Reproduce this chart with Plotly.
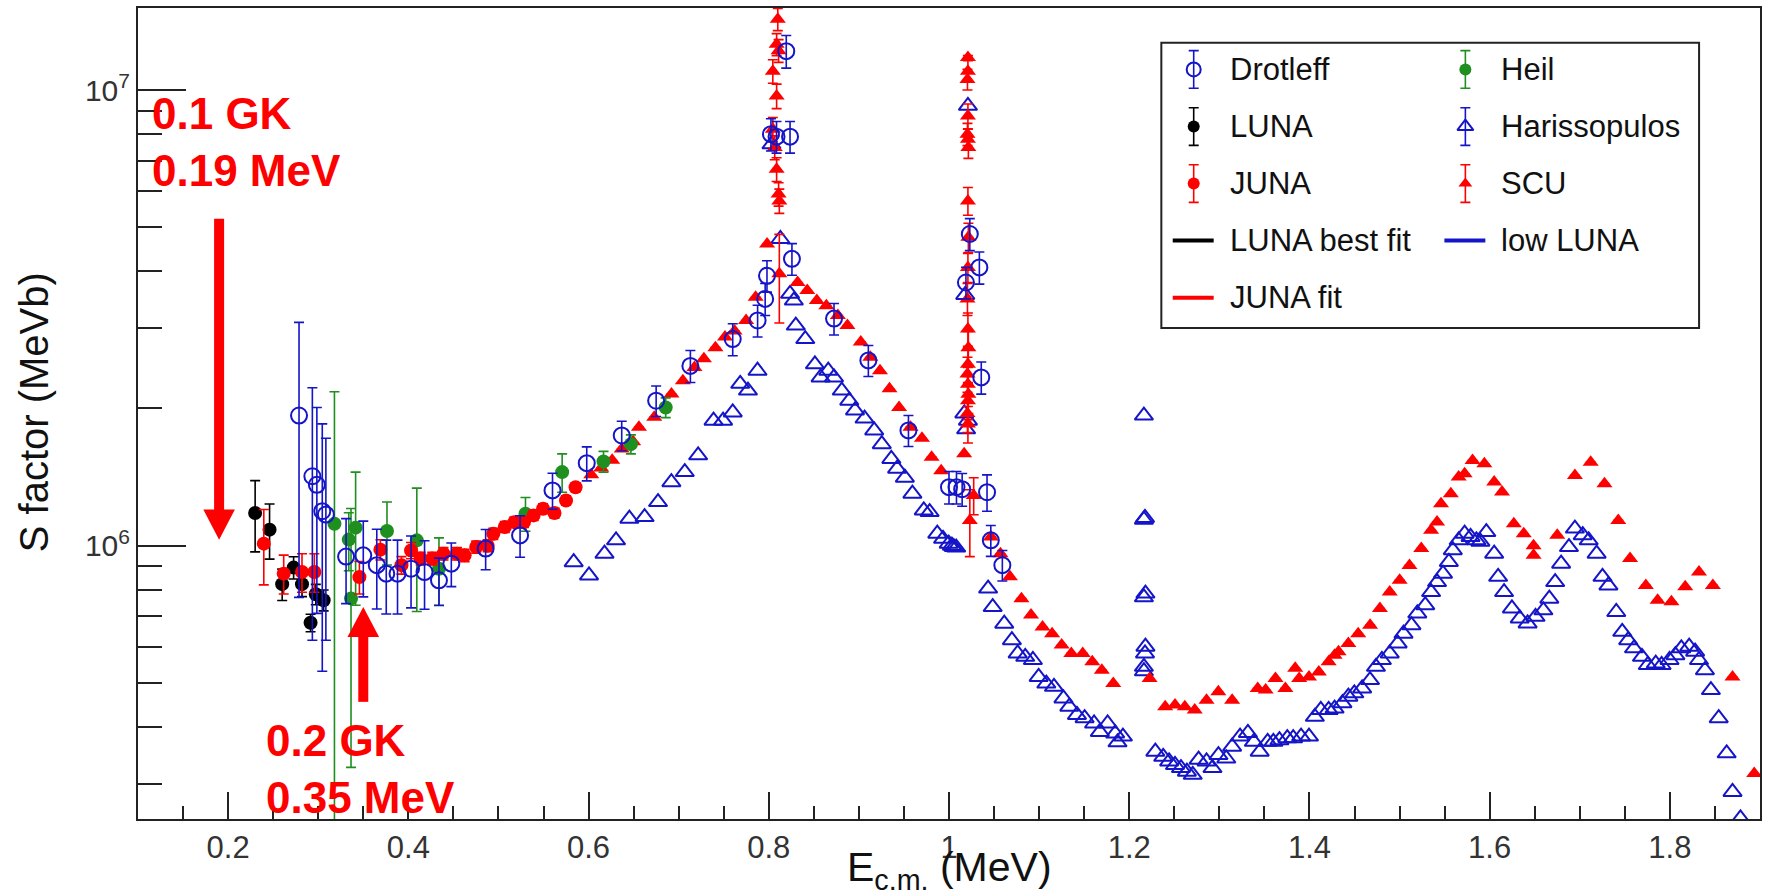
import plotly.graph_objects as go

# ---------------------------------------------------------------- data
# Drotleff (open circles): E_cm [MeV], S [MeV b], dS
drotleff_e = [0.2787, 0.2935, 0.2985, 0.3045, 0.3085, 0.3309, 0.3500, 0.3650, 0.3755, 0.3880,
              0.4030, 0.4180, 0.4340, 0.4477, 0.4858, 0.5240, 0.5600, 0.5980, 0.6368, 0.6750,
              0.7130, 0.7600, 0.7876, 0.7960, 0.7980, 0.8024, 0.8086, 0.8194, 0.8236, 0.8257,
              0.8724, 0.9105, 0.9550, 1.0000, 1.0083, 1.0146, 1.0188, 1.0231, 1.0337, 1.0358,
              1.0422, 1.0464, 1.0592]
drotleff_s = [1.93e6, 1.42e6, 1.36e6, 1.19e6, 1.17e6, 9.46e5, 9.52e5, 9.06e5, 8.68e5, 8.68e5,
              8.90e5, 8.75e5, 8.39e5, 9.13e5, 9.85e5, 1.053e6, 1.322e6, 1.517e6, 1.745e6, 2.08e6,
              2.48e6, 2.84e6, 3.12e6, 3.48e6, 3.91e6, 8.0e6, 7.9e6, 1.217e7, 7.9e6, 4.26e6,
              3.15e6, 2.55e6, 1.79e6, 1.344e6, 1.344e6, 1.33e6, 3.78e6, 4.83e6, 4.08e6, 2.34e6,
              1.31e6, 1.027e6, 9.06e5]
drotleff_ds = [1.16e6, 8.0e5, 6.5e5, 6.6e5, 5.5e5, 2.0e5, 1.8e5, 1.8e5, 1.6e5, 1.6e5,
               1.6e5, 1.5e5, 1.0e5, 1.0e5, 1.0e5, 1.1e5, 1.2e5, 1.3e5, 1.3e5, 1.6e5,
               2.0e5, 2.3e5, 2.5e5, 2.8e5, 3.1e5, 6.5e5, 6.3e5, 1.0e6, 6.3e5, 3.4e5,
               2.5e5, 2.0e5, 1.4e5, 1.1e5, 1.1e5, 1.1e5, 3.0e5, 3.9e5, 3.3e5, 1.9e5,
               1.2e5, 8.0e4, 7.0e4]

# LUNA (filled black circles)
luna_e = [0.2300, 0.2460, 0.2600, 0.2727, 0.2820, 0.2915, 0.2973, 0.3060]
luna_s = [1.179e6, 1.084e6, 8.23e5, 8.95e5, 8.23e5, 6.77e5, 7.82e5, 7.59e5]
luna_ds = [2.1e5, 1.5e5, 6.5e4, 5.0e4, 5.0e4, 3.0e4, 4.0e4, 4.0e4]

# JUNA (filled red circles)
juna_e = [0.2396, 0.2617, 0.2820, 0.2957, 0.3457, 0.3690, 0.3924, 0.4030, 0.4137, 0.4265,
          0.4390, 0.4540, 0.4625, 0.4753, 0.4880, 0.4943, 0.5070, 0.5177, 0.5283, 0.5390,
          0.5495, 0.5622, 0.5750, 0.5856]
juna_s = [1.01e6, 8.68e5, 8.75e5, 8.75e5, 8.53e5, 9.80e5, 9.06e5, 9.76e5, 9.37e5, 9.37e5,
          9.60e5, 9.60e5, 9.52e5, 9.93e5, 1.00e6, 1.062e6, 1.099e6, 1.126e6, 1.126e6, 1.165e6,
          1.205e6, 1.179e6, 1.256e6, 1.343e6]
juna_ds = [1.9e5, 8.5e4, 8.5e4, 8.5e4, 7.0e4, 5.0e4, 4.0e4, 4.0e4, 3.0e4, 3.0e4,
           3.0e4, 3.0e4, 3.0e4, 3.0e4, 3.0e4, 3.0e4, 3.0e4, 3.0e4, 3.0e4, 3.0e4,
           3.0e4, 3.0e4, 3.0e4, 3.0e4]

# Heil (filled green circles)
heil_e = [0.3180, 0.3339, 0.3415, 0.3364, 0.3763, 0.4094, 0.4340, 0.5300, 0.5707, 0.6166,
          0.6470, 0.6856]
heil_s = [1.117e6, 1.031e6, 1.095e6, 7.66e5, 1.077e6, 1.027e6, 8.90e5, 1.175e6, 1.45e6, 1.53e6,
          1.67e6, 2.01e6]
heil_ds = [1.06e6, 1.5e5, 3.55e5, 4.4e5, 1.7e5, 3.1e5, 1.5e5, 1.0e5, 1.4e5, 8.0e4,
           8.0e4, 1.0e5]

# Harissopulos (open blue triangles)
harisso_e = [0.5835, 0.6005, 0.6177, 0.6305, 0.6453, 0.6622, 0.6771, 0.6919, 0.7068, 0.7216,
             0.7387, 0.7493, 0.7600, 0.7683, 0.7769, 0.7875, 0.8030, 0.8129, 0.8236, 0.8278,
             0.8300, 0.8405, 0.8512, 0.8575, 0.8660, 0.8724, 0.8810, 0.8893, 0.8957, 0.9063,
             0.9170, 0.9254, 0.9360, 0.9424, 0.9510, 0.9594, 0.9720, 0.9785, 0.9870, 0.9934,
             0.9997, 1.0032, 1.0053, 1.0080, 1.0170, 1.0180, 1.0190, 1.0210, 1.0210, 1.0434,
             1.0485, 1.0613, 1.0698, 1.0762, 1.0846, 1.0931, 1.0995, 1.1080, 1.1165, 1.1270,
             1.1335, 1.1420, 1.1505, 1.1610, 1.1674, 1.1760, 1.1844, 1.1870, 1.1930, 1.2163,
             1.2175, 1.2163, 1.2180, 1.2163, 1.2180, 1.2175, 1.2163, 1.2163, 1.2290, 1.2377,
             1.2443, 1.2508, 1.2574, 1.2640, 1.2705, 1.2770, 1.2858, 1.2924, 1.2990, 1.3077,
             1.3142, 1.3230, 1.3317, 1.3383, 1.3448, 1.3536, 1.3600, 1.3667, 1.3754, 1.3820,
             1.3907, 1.3995, 1.4060, 1.4126, 1.4213, 1.4279, 1.4366, 1.4432, 1.4498, 1.4585,
             1.4672, 1.4738, 1.4804, 1.4891, 1.4979, 1.5044, 1.5132, 1.5197, 1.5285, 1.5350,
             1.5416, 1.5482, 1.5547, 1.5591, 1.5656, 1.5722, 1.5788, 1.5853, 1.5897, 1.5963,
             1.6050, 1.6094, 1.6160, 1.6247, 1.6334, 1.6421, 1.6509, 1.6596, 1.6662, 1.6727,
             1.6793, 1.6880, 1.6946, 1.7033, 1.7099, 1.7187, 1.7252, 1.7318, 1.7405, 1.7471,
             1.7537, 1.7602, 1.7690, 1.7755, 1.7843, 1.7908, 1.7996, 1.8061, 1.8127, 1.8214,
             1.8280, 1.8323, 1.8389, 1.8455, 1.8542, 1.8630, 1.8695, 1.8783]
harisso_s = [9.20e5, 8.60e5, 9.60e5, 1.027e6, 1.146e6, 1.155e6, 1.246e6, 1.378e6, 1.45e6, 1.578e6,
             1.88e6, 1.88e6, 1.96e6, 2.265e6, 2.19e6, 2.42e6, 7.6e6, 4.71e6, 3.57e6, 3.45e6,
             3.04e6, 2.84e6, 2.50e6, 2.34e6, 2.42e6, 2.34e6, 2.19e6, 2.08e6, 1.98e6, 1.90e6,
             1.79e6, 1.67e6, 1.55e6, 1.475e6, 1.41e6, 1.30e6, 1.195e6, 1.185e6, 1.062e6, 1.035e6,
             1.01e6, 1.00e6, 9.93e5, 9.90e5, 1.95e6, 3.55e6, 1.80e6, 9.23e6, 1.88e6, 8.05e5,
             7.33e5, 6.74e5, 6.20e5, 5.80e5, 5.70e5, 5.61e5, 5.15e5, 4.98e5, 4.90e5, 4.62e5,
             4.43e5, 4.25e5, 4.18e5, 4.07e5, 3.90e5, 4.07e5, 3.87e5, 3.70e5, 3.81e5, 1.93e6,
             1.15e6, 1.14e6, 7.85e5, 7.70e5, 6.00e5, 5.80e5, 5.42e5, 5.30e5, 3.53e5, 3.44e5,
             3.36e5, 3.30e5, 3.25e5, 3.19e5, 3.14e5, 3.39e5, 3.36e5, 3.25e5, 3.47e5, 3.41e5,
             3.62e5, 3.81e5, 3.88e5, 3.71e5, 3.53e5, 3.71e5, 3.71e5, 3.74e5, 3.78e5, 3.78e5,
             3.81e5, 3.81e5, 4.21e5, 4.36e5, 4.36e5, 4.39e5, 4.51e5, 4.66e5, 4.74e5, 4.86e5,
             5.07e5, 5.42e5, 5.61e5, 5.80e5, 6.10e5, 6.41e5, 6.69e5, 7.10e5, 7.40e5, 7.91e5,
             8.32e5, 8.68e5, 9.21e5, 9.77e5, 1.027e6, 1.062e6, 1.045e6, 1.027e6, 1.02e6, 1.071e6,
             9.60e5, 8.54e5, 7.91e5, 7.28e5, 6.92e5, 6.75e5, 6.98e5, 7.21e5, 7.65e5, 8.32e5,
             9.13e5, 9.93e5, 1.09e6, 1.054e6, 1.027e6, 9.60e5, 8.54e5, 8.18e5, 7.15e5, 6.47e5,
             6.20e5, 5.95e5, 5.70e5, 5.47e5, 5.51e5, 5.47e5, 5.61e5, 5.75e5, 5.95e5, 6.00e5,
             5.85e5, 5.61e5, 5.33e5, 4.82e5, 4.18e5, 3.50e5, 2.88e5, 2.52e5]

# SCU (filled red triangles); None where no error bar is shown
scu_e = [0.6030, 0.6140, 0.6262, 0.6368, 0.6495, 0.6559, 0.6729, 0.6920, 0.7047, 0.7175,
         0.7280, 0.7408, 0.7514, 0.7620, 0.7748, 0.7854, 0.7981, 0.8100, 0.8087, 0.8109,
         0.8045, 0.8087, 0.8045, 0.8066, 0.8087, 0.8109, 0.8117, 0.8117, 0.8320, 0.8427,
         0.8533, 0.8639, 0.8767, 0.8873, 0.9021, 0.9127, 0.9234, 0.9340, 0.9446, 0.9573,
         0.9700, 0.9807, 0.9913, 1.0168, 1.0210, 1.0210, 1.0205, 1.0210, 1.0205, 1.0210,
         1.0215, 1.0210, 1.0215, 1.0210, 1.0205, 1.0210, 1.0215, 1.0210, 1.0205, 1.0210,
         1.0215, 1.0210, 1.0205, 1.0210, 1.0231, 1.0274, 1.0465, 1.0571, 1.0677, 1.0804,
         1.0910, 1.1038, 1.1144, 1.1250, 1.1357, 1.1484, 1.1590, 1.1696, 1.1823, 1.2226,
         1.2399, 1.2508, 1.2617, 1.2727, 1.2858, 1.2989, 1.3142, 1.3426, 1.3514, 1.3623,
         1.3733, 1.3842, 1.3886, 1.3995, 1.4104, 1.4213, 1.4279, 1.4323, 1.4432, 1.4541,
         1.4673, 1.4782, 1.4891, 1.5001, 1.5110, 1.5241, 1.5350, 1.5416, 1.5460, 1.5569,
         1.5656, 1.5722, 1.5810, 1.5941, 1.6050, 1.6137, 1.6268, 1.6378, 1.6487, 1.6487,
         1.6750, 1.6946, 1.7121, 1.7274, 1.7427, 1.7558, 1.7733, 1.7864, 1.8017, 1.8170,
         1.8323, 1.8477, 1.8695, 1.8936]
scu_s = [1.43e6, 1.48e6, 1.54e6, 1.63e6, 1.69e6, 1.82e6, 1.914e6, 2.153e6, 2.30e6, 2.46e6,
         2.57e6, 2.72e6, 2.87e6, 2.96e6, 3.12e6, 3.51e6, 4.59e6, 1.43e7, 1.26e7, 1.22e7,
         1.10e7, 9.7e6, 8.2e6, 7.48e6, 6.7e6, 5.91e6, 5.71e6, 3.95e6, 3.78e6, 3.63e6,
         3.45e6, 3.36e6, 3.20e6, 3.04e6, 2.80e6, 2.59e6, 2.42e6, 2.21e6, 2.01e6, 1.82e6,
         1.72e6, 1.564e6, 1.46e6, 1.59e6, 1.178e7, 1.10e7, 1.055e7, 8.77e6, 8.0e6, 7.8e6,
         7.48e6, 5.71e6, 4.75e6, 4.08e6, 3.48e6, 2.99e6, 2.72e6, 2.50e6, 2.38e6, 2.26e6,
         2.15e6, 2.08e6, 1.95e6, 1.85e6, 1.136e6, 1.289e6, 1.045e6, 9.60e5, 8.54e5, 7.65e5,
         7.04e5, 6.63e5, 6.41e5, 6.05e5, 5.80e5, 5.80e5, 5.56e5, 5.33e5, 4.98e5, 5.11e5,
         4.43e5, 4.47e5, 4.43e5, 4.36e5, 4.58e5, 4.78e5, 4.58e5, 4.86e5, 4.82e5, 5.11e5,
         4.86e5, 5.38e5, 5.11e5, 5.15e5, 5.28e5, 5.56e5, 5.75e5, 5.85e5, 6.10e5, 6.41e5,
         6.69e5, 7.28e5, 7.91e5, 8.40e5, 9.05e5, 9.85e5, 1.081e6, 1.127e6, 1.236e6, 1.30e6,
         1.414e6, 1.438e6, 1.538e6, 1.512e6, 1.379e6, 1.311e6, 1.117e6, 1.062e6, 1.00e6, 9.52e5,
         1.054e6, 1.426e6, 1.525e6, 1.368e6, 1.136e6, 9.37e5, 8.18e5, 7.59e5, 7.53e5, 8.12e5,
         8.75e5, 8.18e5, 5.15e5, 3.16e5]
scu_ds = [None] * 17 + [
    8.0e5, 7.0e5, 7.0e5, 6.5e5, 6.0e5, 5.0e5, 4.5e5, 4.0e5, 3.5e5, 3.5e5, 8.7e5] + [None] * 16 + [
    1.2e5, 6.0e5, 5.5e5, 5.5e5, 4.5e5, 4.0e5, 4.0e5, 4.0e5, 3.5e5, 3.0e5, 2.8e5, 2.5e5, 2.3e5,
    2.2e5, 2.1e5, 2.0e5, 2.0e5, 1.9e5, 1.8e5, 1.7e5, 1.9e5, 1.2e5] + [None] * 70

# Reference temperatures / Gamow-window energies marked with arrows
arrow_temp_gk = [0.1, 0.2]
arrow_energy_mev = [0.19, 0.35]

x_range = [0.1, 1.9]
y_range_log = [5.40, 7.18]

# ---------------------------------------------------------------- styles
BLUE = "#1414c8"
RED = "#ff0000"
GREEN = "#1f8f1f"
BLACK = "#000000"
AXIS = "#222222"
FONT = "Liberation Sans, Arial, Helvetica, sans-serif"

styles = {
    "Drotleff": dict(symbol="circle-open", size=16, color=BLUE, lw=2),
    "LUNA": dict(symbol="circle", size=14, color=BLACK, lw=0),
    "JUNA": dict(symbol="circle", size=14, color=RED, lw=0),
    "Heil": dict(symbol="circle", size=14, color=GREEN, lw=0),
    "Harissopulos": dict(symbol="triangle-up-open", size=16, color=BLUE, lw=2),
    "SCU": dict(symbol="triangle-up", size=14, color=RED, lw=0),
}

fig = go.Figure()


def add_series(name, e, s, ds=None):
    st = styles[name]
    marker = dict(symbol=st["symbol"], size=st["size"], color=st["color"])
    if st["lw"]:
        marker["line"] = dict(width=st["lw"], color=st["color"])
    err = None
    if ds is not None:
        err = dict(type="data", array=ds, visible=True, color=st["color"],
                   thickness=1.6, width=5)
    fig.add_trace(go.Scatter(x=e, y=s, mode="markers", name=name, marker=marker,
                             error_y=err, showlegend=False,
                             xaxis="x", yaxis="y"))


add_series("Harissopulos", harisso_e, harisso_s)
add_series("SCU", scu_e, scu_s, scu_ds)
add_series("Heil", heil_e, heil_s, heil_ds)
add_series("LUNA", luna_e, luna_s, luna_ds)
add_series("JUNA", juna_e, juna_s, juna_ds)
add_series("Drotleff", drotleff_e, drotleff_s, drotleff_ds)

# ---------------------------------------------------------------- legend box
# two-column legend drawn on an inset axis (units: px inside the box / rows)
legend_entries = [
    ("Drotleff", "marker", None), ("Heil", "marker", None),
    ("LUNA", "marker", None), ("Harissopulos", "marker", None),
    ("JUNA", "marker", None), ("SCU", "marker", None),
    ("LUNA best fit", "line", BLACK), ("low LUNA", "line", BLUE),
    ("JUNA fit", "line", RED),
]
leg_px = dict(x0=1162.6, x1=1701.0, y0=41.7, y1=327.3)
plot_px = dict(x0=138.0, x1=1762.0, y0=7.0, y1=819.0)
pw = plot_px["x1"] - plot_px["x0"]
ph = plot_px["y1"] - plot_px["y0"]
leg_w = leg_px["x1"] - leg_px["x0"]
n_rows = 5
col_sym = [32.4, 304.4]
col_txt = [66.4, 338.4]

for i, (label, kind, lcolor) in enumerate(legend_entries):
    row, col = divmod(i, 2)
    yc = row + 0.47
    if kind == "marker":
        st = styles[label]
        marker = dict(symbol=st["symbol"], size=st["size"] - 2, color=st["color"])
        if st["lw"]:
            marker["line"] = dict(width=st["lw"], color=st["color"])
        fig.add_trace(go.Scatter(
            x=[col_sym[col]], y=[yc], mode="markers", marker=marker, showlegend=False,
            error_y=dict(type="data", array=[0.33], color=st["color"], thickness=1.6, width=5),
            xaxis="x2", yaxis="y2", hoverinfo="skip"))
    else:
        fig.add_trace(go.Scatter(
            x=[col_sym[col] - 21, col_sym[col] + 20], y=[yc, yc], mode="lines",
            line=dict(color=lcolor, width=4), showlegend=False,
            xaxis="x2", yaxis="y2", hoverinfo="skip"))
    fig.add_annotation(x=col_txt[col], y=yc, xref="x2", yref="y2", text=label,
                       showarrow=False, xanchor="left", yanchor="middle",
                       font=dict(family=FONT, size=31, color="#111111"))

fig.add_shape(type="rect", xref="paper", yref="paper",
              x0=(leg_px["x0"] - plot_px["x0"]) / pw, x1=(leg_px["x1"] - plot_px["x0"]) / pw,
              y0=(plot_px["y1"] - leg_px["y1"]) / ph, y1=(plot_px["y1"] - leg_px["y0"]) / ph,
              line=dict(color=AXIS, width=2), fillcolor="rgba(0,0,0,0)", layer="above")

# ---------------------------------------------------------------- arrows + labels
def yfrac(py):
    return (plot_px["y1"] - py) / ph


head_half = 15.8 / pw * (x_range[1] - x_range[0])
# (shaft start px, head base px, tip px) for the down / up arrows
arrow_geom = [(218.0, 509.0, 539.3), (701.7, 636.7, 606.7)]
for e_mev, (p_start, p_base, p_tip) in zip(arrow_energy_mev, arrow_geom):
    direction = 1 if p_tip > p_start else -1
    fig.add_shape(type="line", xref="x", yref="paper", x0=e_mev, x1=e_mev,
                  y0=yfrac(p_start), y1=yfrac(p_base + 2 * direction),
                  line=dict(color=RED, width=10))
    path = (f"M {e_mev - head_half},{yfrac(p_base)} L {e_mev + head_half},{yfrac(p_base)} "
            f"L {e_mev},{yfrac(p_tip)} Z")
    fig.add_shape(type="path", xref="x", yref="paper", path=path,
                  fillcolor=RED, line=dict(width=0))

label_pos = [(150.0, 86.0), (264.0, 714.0)]
for t_gk, e_mev, (lx, ly) in zip(arrow_temp_gk, arrow_energy_mev, label_pos):
    fig.add_annotation(xref="paper", yref="paper",
                       x=(lx - plot_px["x0"]) / pw, y=yfrac(ly),
                       xanchor="left", yanchor="top", align="left", showarrow=False,
                       text=f"<b>{t_gk:g} GK<br>{e_mev:g} MeV</b>",
                       font=dict(family=FONT, size=44, color=RED))

# ---------------------------------------------------------------- axis titles
fig.add_annotation(xref="paper", yref="paper", x=0.5, y=yfrac(842.0),
                   xanchor="center", yanchor="top", showarrow=False,
                   text="E<sub>c.m.</sub> (MeV)",
                   font=dict(family=FONT, size=41, color="#111111"))
fig.add_annotation(xref="paper", yref="paper", x=(34.0 - plot_px["x0"]) / pw, y=yfrac(411.6),
                   xanchor="center", yanchor="middle", showarrow=False, textangle=-90,
                   text="S factor (MeVb)",
                   font=dict(family=FONT, size=40, color="#111111"))

# ---------------------------------------------------------------- axes
minor_y = [k * 10 ** d for d in (5, 6) for k in range(2, 10)
           if 10 ** y_range_log[0] < k * 10 ** d < 10 ** y_range_log[1]]

fig.update_layout(
    width=1768, height=896,
    margin=dict(l=plot_px["x0"], r=1768 - plot_px["x1"], t=plot_px["y0"], b=896 - plot_px["y1"]),
    paper_bgcolor="white", plot_bgcolor="white",
    font=dict(family=FONT, color="#333333"),
    showlegend=False,
    xaxis=dict(range=x_range, tickmode="linear", tick0=0.2, dtick=0.2,
               ticks="inside", ticklen=27, tickwidth=2, tickcolor=AXIS,
               showline=True, linecolor=AXIS, linewidth=2, mirror=True,
               showgrid=False, zeroline=False,
               tickfont=dict(family=FONT, size=31, color="#333333"),
               minor=dict(ticks="inside", ticklen=13, tickwidth=2, tickcolor=AXIS,
                          tick0=0.1, dtick=0.05, showgrid=False)),
    yaxis=dict(type="log", range=y_range_log, tickmode="array",
               tickvals=[1e6, 1e7], ticktext=["10<sup>6</sup>", "10<sup>7</sup>"],
               ticks="inside", ticklen=48, tickwidth=2, tickcolor=AXIS,
               showline=True, linecolor=AXIS, linewidth=2, mirror=True,
               showgrid=False, zeroline=False,
               tickfont=dict(family=FONT, size=30, color="#333333"),
               minor=dict(tickmode="array", tickvals=minor_y, ticks="inside",
                          ticklen=24, tickwidth=2, tickcolor=AXIS, showgrid=False)),
    xaxis2=dict(domain=[(leg_px["x0"] - plot_px["x0"]) / pw, (leg_px["x1"] - plot_px["x0"]) / pw],
                range=[0, leg_w], visible=False, anchor="y2", fixedrange=True),
    yaxis2=dict(domain=[yfrac(leg_px["y1"]), yfrac(leg_px["y0"])],
                range=[n_rows, 0], visible=False, anchor="x2", fixedrange=True),
)

fig.write_html("out.html")
